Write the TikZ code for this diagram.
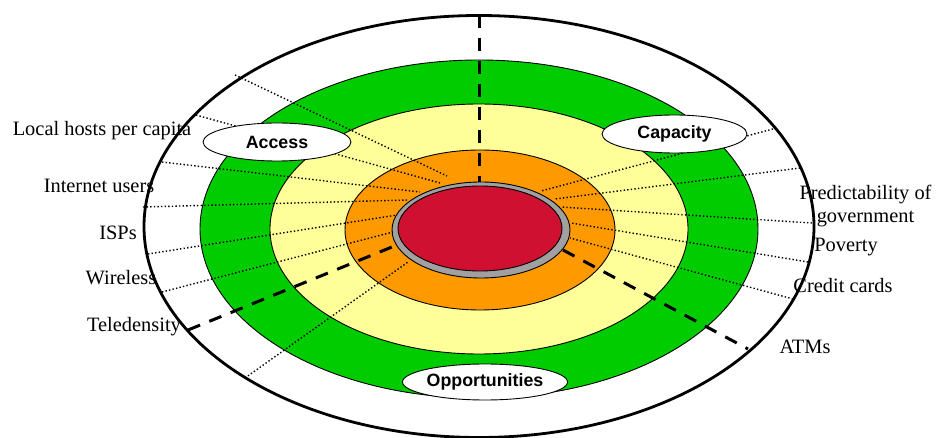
\documentclass[tikz,border=0pt]{standalone}
\usepackage{fontspec}
\setmainfont{Liberation Serif}
\newfontfamily\lblfont{Liberation Sans}
\usetikzlibrary{shapes.geometric}
\definecolor{ringgreen}{HTML}{00CC00}
\definecolor{ringyellow}{HTML}{FFFF99}
\definecolor{ringorange}{HTML}{FF9900}
\definecolor{ringgray}{HTML}{A0A0A0}
\definecolor{corered}{RGB}{208,16,48}
\tikzset{
  ring/.style={draw=black, line width=0.9pt},
  outerring/.style={draw=black, line width=2.8pt, fill=white},
  dotline/.style={line width=1.4pt, dash pattern=on 1.4pt off 2.2pt},
  dashline/.style={line width=3pt, dash pattern=on 13pt off 10pt},
  tag/.style={font=\fontsize{20.4}{23.5}\selectfont, inner sep=0pt, align=center},
  badge/.style={ellipse, draw=black, line width=0.9pt, fill=white, inner sep=0pt,
    font=\lblfont\bfseries\fontsize{17.8}{20}\selectfont}
}
\begin{document}
\begin{tikzpicture}[x=1pt,y=-1pt]
\useasboundingbox (0,0) rectangle (938,438);
\fill[white] (0,0) rectangle (938,438);
% rings
\path[outerring] (479,226.5) ellipse [x radius=335, y radius=211];
\path[ring, fill=ringgreen] (479,229) ellipse [x radius=279, y radius=169];
\path[ring, fill=ringyellow] (479,229) ellipse [x radius=209, y radius=125];
\path[ring, fill=ringorange] (480,230) ellipse [x radius=135, y radius=80];
\path[ring, fill=ringgray] (481,230) ellipse [x radius=89, y radius=48];
\path[ring, fill=corered] (480,228.5) ellipse [x radius=82, y radius=42.5];
% line end points
\coordinate (la1) at (235,75);   \coordinate (li1) at (447,176);
\coordinate (la2) at (196,115);  \coordinate (li2) at (440,183);
\coordinate (la3) at (162,162);  \coordinate (li3) at (420,192);
\coordinate (la4) at (143,207);  \coordinate (li4) at (408,200);
\coordinate (la5) at (148,254);  \coordinate (li5) at (397,215);
\coordinate (la6) at (162,292);  \coordinate (li6) at (393,232);
\coordinate (la7) at (245,378);  \coordinate (li7) at (408,262);
\coordinate (ra1) at (773,129);  \coordinate (ri1) at (541,191);
\coordinate (ra2) at (800,168);  \coordinate (ri2) at (555,199);
\coordinate (ra3) at (812,223);  \coordinate (ri3) at (561,207);
\coordinate (ra4) at (808,262);  \coordinate (ri4) at (571,223);
\coordinate (ra5) at (793,299);  \coordinate (ri5) at (570,238);
\foreach \i in {1,...,7} \draw[dotline] (la\i) -- (li\i);
\foreach \i in {1,...,5} \draw[dotline] (ra\i) -- (ri\i);
% dashed sector lines
\coordinate (dtop) at (479,15);  \coordinate (dtopin) at (479,182);
\coordinate (dleft) at (188,330); \coordinate (dleftin) at (392,247);
\coordinate (dright) at (748,349); \coordinate (drightin) at (563,250);
\draw[dashline] (dtop) -- (dtopin);
\draw[dashline] (dleft) -- (dleftin);
\draw[dashline] (drightin) -- (dright);
% badges
\node[badge, minimum width=148pt, minimum height=38pt] (access) at (277,142) {Access};
\node[badge, minimum width=145pt, minimum height=38pt] (capacity) at (674.5,134) {Capacity};
\node[badge, minimum width=144pt, minimum height=36pt] (opps) at (485,382) {Opportunities};
% labels
\node[tag] (lhpc) at (102,131) {Local hosts per capita};
\node[tag] (iu) at (99,186) {Internet users};
\node[tag] (isps) at (118,233) {ISPs};
\node[tag] (wl) at (121,278) {Wireless};
\node[tag] (tele) at (134,327) {Teledensity};
\node[tag] (pred) at (865.5,206) {Predictability of\\government};
\node[tag] (pov) at (846,247) {Poverty};
\node[tag] (cc) at (843,286) {Credit cards};
\node[tag] (atm) at (805,347) {ATMs};
\end{tikzpicture}
\end{document}
